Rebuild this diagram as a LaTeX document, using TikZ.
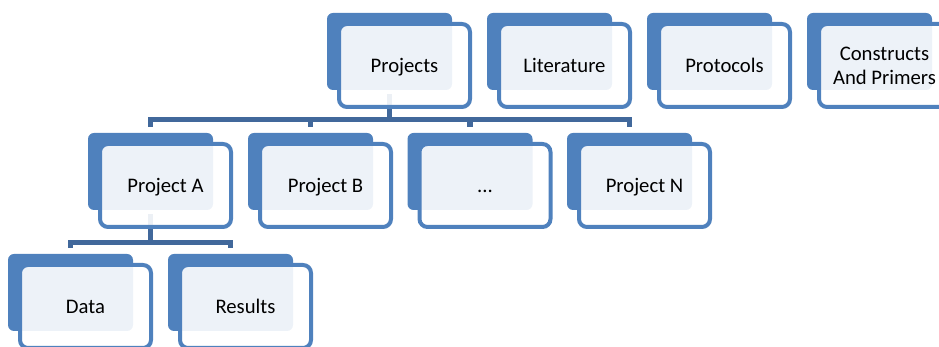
\documentclass[tikz,border=0pt]{standalone}
\usepackage{fontspec}
\setmainfont{Carlito}
\definecolor{cardblue}{RGB}{79,129,189}
\definecolor{linkblue}{RGB}{65,104,155}

\begin{document}
\begin{tikzpicture}[x=0.5pt, y=0.5pt,
    cardback/.style={fill=cardblue, rounded corners=3pt, inner sep=0pt,
      minimum width=62.5pt, minimum height=38.5pt},
    cardfront/.style={draw=cardblue, line width=2pt, fill=white, fill opacity=0.9,
      text opacity=1, rounded corners=4pt, inner sep=0pt, align=center,
      minimum width=65.5pt, minimum height=41.5pt, text height=6.7pt, text depth=0pt,
      font=\fontsize{10.35pt}{12pt}\selectfont},
    link/.style={draw=linkblue, line width=2.6pt}]
  \clip (0,0) rectangle (939,347);
  % top row
  \node[cardback] (projb) at (389.5,295.5) {};
  \node[cardback] (litb) at (549.5,295.5) {};
  \node[cardback] (protb) at (709.5,295.5) {};
  \node[cardback] (consb) at (869.5,295.5) {};
  % projects row
  \node[cardback] (pab) at (150.5,175.5) {};
  \node[cardback] (pbb) at (310.5,175.5) {};
  \node[cardback] (dotsb) at (470,175.5) {};
  \node[cardback] (pnb) at (629.5,175.5) {};
  % inside project A
  \node[cardback] (datab) at (70.5,54.5) {};
  \node[cardback] (resb) at (230.5,54.5) {};
  % tree lines
  \draw[link] ([yshift=-2pt]projb.south) -- ([yshift=-14.5pt]projb.south) -| ([yshift=3pt]pab.north);
  \draw[link] ([yshift=-14.5pt]projb.south) -| ([yshift=3pt]pbb.north);
  \draw[link] ([yshift=-14.5pt]projb.south) -| ([yshift=3pt]dotsb.north);
  \draw[link] ([yshift=-14.5pt]projb.south) -| ([yshift=3pt]pnb.north);
  \draw[link] ([yshift=-2pt]pab.south) -- ([yshift=-16pt]pab.south) -| ([yshift=3pt]datab.north);
  \draw[link] ([yshift=-16pt]pab.south) -| ([yshift=3pt]resb.north);
  % front cards with the labels
  \node[cardfront] (proj) at ([shift={(7.5pt,-7pt)}]projb) {Projects};
  \node[cardfront] (lit) at ([shift={(7.5pt,-7pt)}]litb) {Literature};
  \node[cardfront] (prot) at ([shift={(7.5pt,-7pt)}]protb) {Protocols};
  \node[cardfront, text height={}, text depth={}] (cons) at ([shift={(7.5pt,-7pt)}]consb) {Constructs\\And Primers};
  \node[cardfront] (pa) at ([shift={(7.5pt,-7pt)}]pab) {Project A};
  \node[cardfront] (pb) at ([shift={(7.5pt,-7pt)}]pbb) {Project B};
  \node[cardfront] (dots) at ([shift={(7.5pt,-7pt)}]dotsb) {...};
  \node[cardfront] (pn) at ([shift={(7.5pt,-7pt)}]pnb) {Project N};
  \node[cardfront] (data) at ([shift={(7.5pt,-7pt)}]datab) {Data};
  \node[cardfront] (res) at ([shift={(7.5pt,-7pt)}]resb) {Results};
\end{tikzpicture}
\end{document}
